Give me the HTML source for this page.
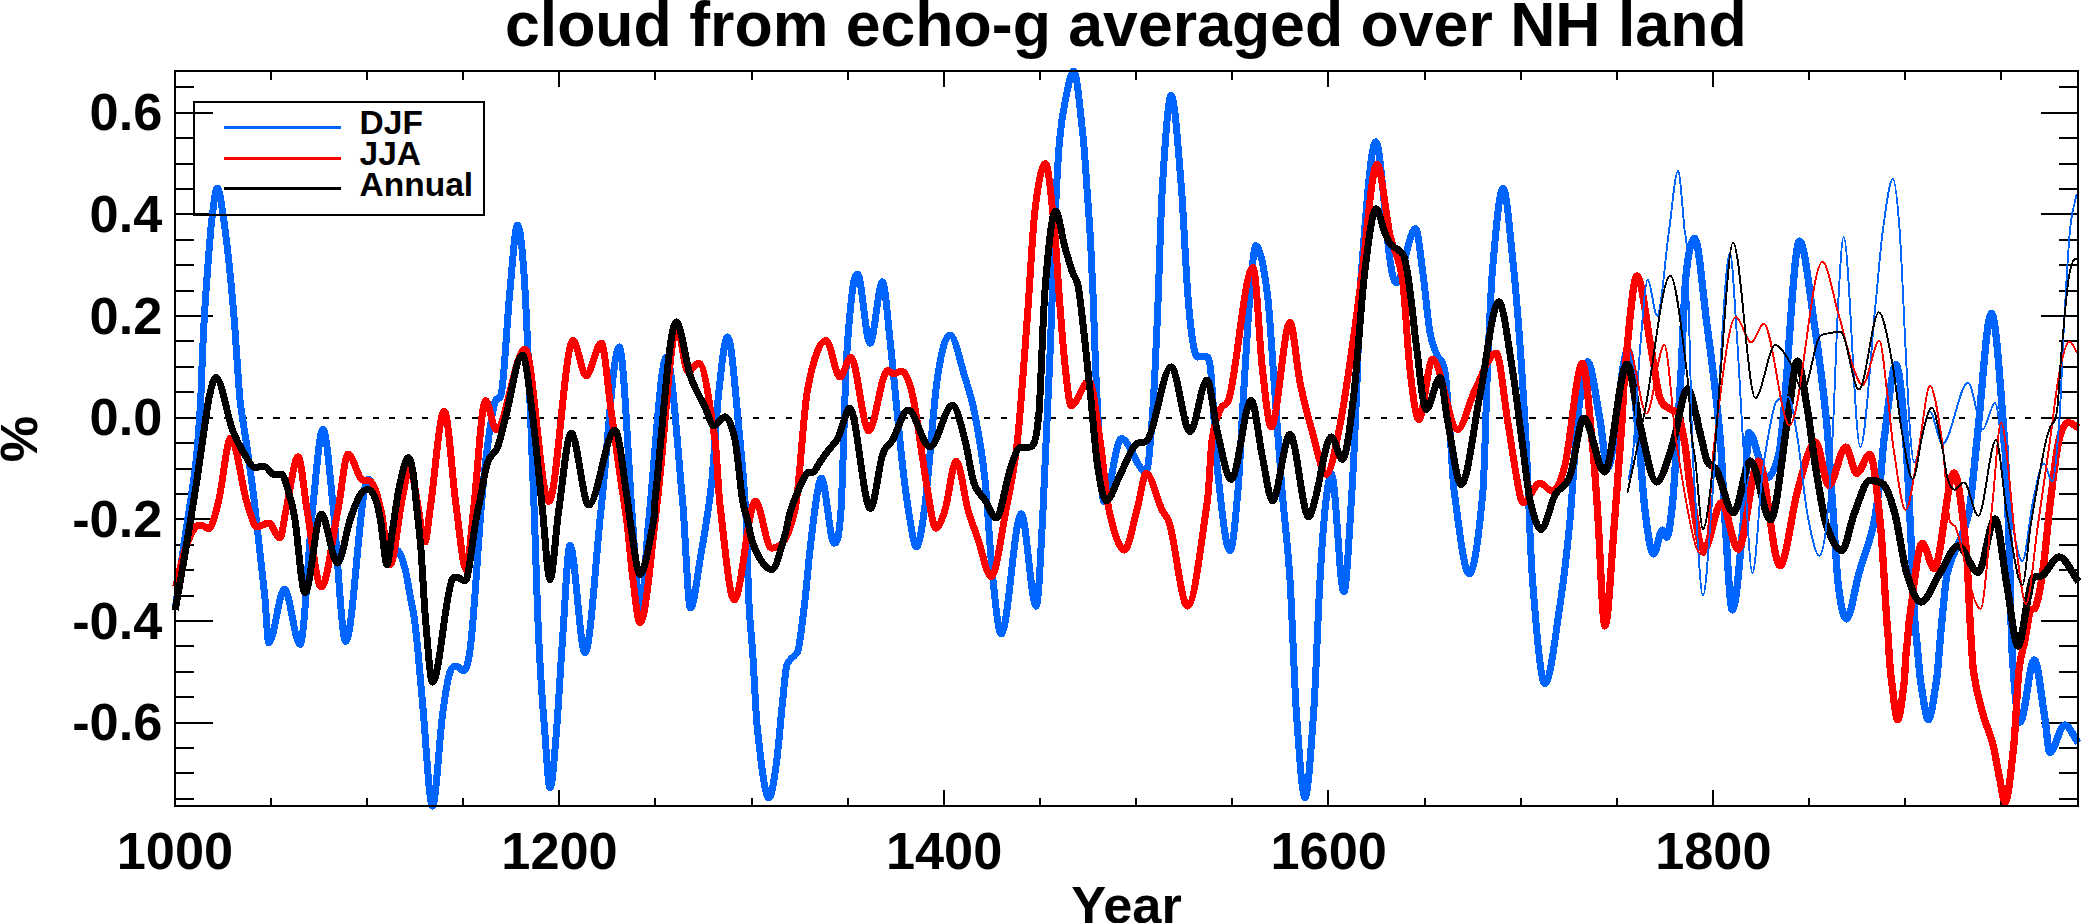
<!DOCTYPE html>
<html lang="en"><head><meta charset="utf-8"><title>cloud from echo-g averaged over NH land</title>
<style>html,body{margin:0;padding:0;background:#fff}body{width:2081px;height:923px;overflow:hidden}svg{display:block}text{font-family:"Liberation Sans",sans-serif;font-weight:bold;fill:#000}.tk{font-size:52.3px}.lg{font-size:33.5px}.tt{font-size:62.6px}.c{fill:none;stroke-linejoin:round;stroke-linecap:butt;shape-rendering:crispEdges}</style></head><body>
<svg width="2081" height="923" viewBox="0 0 2081 923">
<rect width="2081" height="923" fill="#fff"/>
<path d="M175.0 799.0h19.0M2078.0 799.0h-19.0M175.0 773.0h19.0M2078.0 773.0h-19.0M175.0 748.0h19.0M2078.0 748.0h-19.0M175.0 723.0h37.5M2078.0 723.0h-37.5M175.0 697.0h19.0M2078.0 697.0h-19.0M175.0 672.0h19.0M2078.0 672.0h-19.0M175.0 646.0h19.0M2078.0 646.0h-19.0M175.0 621.0h37.5M2078.0 621.0h-37.5M175.0 596.0h19.0M2078.0 596.0h-19.0M175.0 570.0h19.0M2078.0 570.0h-19.0M175.0 545.0h19.0M2078.0 545.0h-19.0M175.0 519.0h37.5M2078.0 519.0h-37.5M175.0 494.0h19.0M2078.0 494.0h-19.0M175.0 469.0h19.0M2078.0 469.0h-19.0M175.0 443.0h19.0M2078.0 443.0h-19.0M175.0 418.0h37.5M2078.0 418.0h-37.5M175.0 392.0h19.0M2078.0 392.0h-19.0M175.0 367.0h19.0M2078.0 367.0h-19.0M175.0 341.0h19.0M2078.0 341.0h-19.0M175.0 316.0h37.5M2078.0 316.0h-37.5M175.0 291.0h19.0M2078.0 291.0h-19.0M175.0 265.0h19.0M2078.0 265.0h-19.0M175.0 240.0h19.0M2078.0 240.0h-19.0M175.0 214.0h37.5M2078.0 214.0h-37.5M175.0 189.0h19.0M2078.0 189.0h-19.0M175.0 164.0h19.0M2078.0 164.0h-19.0M175.0 138.0h19.0M2078.0 138.0h-19.0M175.0 113.0h37.5M2078.0 113.0h-37.5M175.0 87.0h19.0M2078.0 87.0h-19.0M271.0 71.0v8.5M271.0 806.0v-8.5M367.0 71.0v8.5M367.0 806.0v-8.5M463.0 71.0v8.5M463.0 806.0v-8.5M559.0 71.0v16.0M559.0 806.0v-16.0M655.0 71.0v8.5M655.0 806.0v-8.5M752.0 71.0v8.5M752.0 806.0v-8.5M848.0 71.0v8.5M848.0 806.0v-8.5M944.0 71.0v16.0M944.0 806.0v-16.0M1040.0 71.0v8.5M1040.0 806.0v-8.5M1136.0 71.0v8.5M1136.0 806.0v-8.5M1232.0 71.0v8.5M1232.0 806.0v-8.5M1328.0 71.0v16.0M1328.0 806.0v-16.0M1425.0 71.0v8.5M1425.0 806.0v-8.5M1521.0 71.0v8.5M1521.0 806.0v-8.5M1617.0 71.0v8.5M1617.0 806.0v-8.5M1713.0 71.0v16.0M1713.0 806.0v-16.0M1809.0 71.0v8.5M1809.0 806.0v-8.5M1905.0 71.0v8.5M1905.0 806.0v-8.5M2001.0 71.0v8.5M2001.0 806.0v-8.5" stroke="#000" stroke-width="2" fill="none" shape-rendering="crispEdges"/>
<path d="M174.2 418.0H2078.0" stroke="#000" stroke-width="2" stroke-dasharray="6.2 10.327" fill="none" shape-rendering="crispEdges"/>
<path class="c" d="M175.3 607.0C175.8 604.3 176.2 602.4 176.7 599.0C178.9 583.2 181.0 565.1 183.2 549.4C184.7 538.6 186.2 529.9 187.7 519.5C190.5 499.9 193.4 485.7 196.2 459.7C197.7 445.9 199.2 423.9 200.7 400.0C201.1 393.6 201.5 378.2 201.9 369.0C202.7 351.3 203.4 332.8 204.2 319.4C205.3 299.6 206.5 284.5 207.6 269.6C209.0 251.3 210.4 231.5 211.8 219.8C213.7 204.3 215.5 188.0 217.4 188.0C219.5 188.0 221.6 205.8 223.8 219.8C225.7 233.0 227.7 250.7 229.7 269.6C231.2 283.9 232.7 300.8 234.2 319.4C235.4 333.9 236.5 352.8 237.7 369.0C238.5 379.7 239.2 393.6 240.0 400.0C242.5 420.5 244.9 432.4 247.4 449.8C249.6 465.6 251.9 481.4 254.1 499.6C255.9 514.6 257.8 532.7 259.6 549.4C261.4 565.8 263.2 580.6 265.0 599.0C266.2 611.8 267.5 643.0 268.8 643.0C274.0 643.0 279.2 589.0 284.5 589.0C289.7 589.0 294.8 644.5 300.0 644.5C304.2 644.5 308.3 549.0 312.5 510.0C316.0 477.2 319.5 429.0 323.0 429.0C326.3 429.0 329.7 473.9 333.0 505.0C337.2 544.7 341.5 641.5 345.8 641.5C351.5 641.5 357.2 542.0 363.0 500.0C364.7 487.8 366.3 479.0 368.0 479.0C370.3 479.0 372.7 483.0 375.0 490.0C376.7 495.0 378.3 506.5 380.0 515.0C381.3 521.8 382.7 531.0 384.0 536.0C385.3 541.0 386.7 543.4 388.0 545.0C390.0 547.4 392.0 546.6 394.0 548.0C396.0 549.4 398.0 549.4 400.0 553.5C401.9 557.4 403.9 564.0 405.8 572.0C407.2 577.8 408.6 587.3 410.0 595.0C411.5 603.0 412.9 608.6 414.4 619.0C415.6 627.6 416.8 639.6 418.0 652.0C419.5 667.5 421.0 686.6 422.5 702.5C425.8 737.9 429.2 806.0 432.5 806.0C435.8 806.0 439.2 740.5 442.5 715.0C445.0 695.9 447.5 679.2 450.0 672.0C452.1 666.0 454.2 666.0 456.2 666.0C458.8 666.0 461.2 670.8 463.8 670.8C466.2 670.8 468.8 663.3 471.2 640.0C474.5 609.7 477.8 549.2 481.0 510.0C483.0 485.9 485.0 465.4 487.0 450.0C489.7 429.4 492.3 411.3 495.0 402.0C497.0 395.0 499.0 402.0 501.0 395.0C504.0 384.5 507.0 320.9 510.0 290.0C512.5 264.2 515.0 225.0 517.5 225.0C520.0 225.0 522.5 247.7 525.0 290.0C527.9 339.4 530.8 425.8 533.8 500.0C535.4 542.4 537.1 605.2 538.8 640.0C540.8 683.5 542.9 707.6 545.0 735.0C546.7 756.9 548.3 788.0 550.0 788.0C552.1 788.0 554.2 759.7 556.2 735.0C558.3 710.3 560.4 668.7 562.5 640.0C565.0 605.5 567.5 545.5 570.0 545.5C575.0 545.5 580.0 653.0 585.0 653.0C590.3 653.0 595.7 557.7 601.0 510.0C607.1 455.6 613.2 346.8 619.2 346.8C623.7 346.8 628.1 462.5 632.5 520.0C635.0 552.6 637.5 617.0 640.0 617.0C642.9 617.0 645.8 548.6 648.8 520.0C654.7 461.9 660.6 357.0 666.5 357.0C671.8 357.0 677.2 444.2 682.5 500.0C685.2 527.9 687.8 608.0 690.5 608.0C693.8 608.0 697.1 577.1 700.4 557.6C704.1 535.8 707.8 517.3 711.5 484.0C713.9 462.1 716.4 414.4 718.8 392.0C721.7 365.3 724.6 336.8 727.5 336.8C731.7 336.8 735.8 399.3 740.0 440.0C742.1 460.4 744.2 481.9 746.2 520.0C747.1 535.2 747.9 582.7 748.8 600.0C750.0 626.0 751.2 631.4 752.5 650.0C754.2 674.8 755.8 715.0 757.5 730.0C761.3 764.3 765.1 798.0 768.9 798.0C771.4 798.0 773.8 782.2 776.2 765.0C778.3 750.4 780.4 722.7 782.5 702.5C783.8 690.4 785.0 675.1 786.2 668.0C787.5 660.9 788.8 661.9 790.0 660.0C791.7 657.5 793.3 657.4 795.0 655.0C796.2 653.2 797.5 654.4 798.8 647.5C800.8 636.0 802.9 618.1 805.0 600.0C806.7 585.6 808.3 564.8 810.0 550.0C812.1 531.5 814.2 513.3 816.2 500.0C817.9 489.3 819.6 478.0 821.2 478.0C825.6 478.0 829.9 543.2 834.2 543.2C836.5 543.2 838.8 543.2 841.0 510.0C842.8 484.1 844.5 398.5 846.2 365.0C848.3 325.1 850.4 306.8 852.5 290.0C854.2 276.6 855.8 274.2 857.5 274.2C861.7 274.2 865.8 343.2 870.0 343.2C874.2 343.2 878.3 281.8 882.5 281.8C885.0 281.8 887.5 317.1 890.0 340.0C894.2 378.2 898.3 427.5 902.5 465.0C905.0 487.5 907.5 505.1 910.0 520.0C912.1 532.4 914.2 547.0 916.2 547.0C919.2 547.0 922.1 528.3 925.0 505.0C929.2 471.8 933.3 405.8 937.5 377.5C941.7 349.2 945.8 335.0 950.0 335.0C955.0 335.0 960.0 361.5 965.0 377.5C968.3 388.2 971.7 397.9 975.0 415.0C978.3 432.1 981.7 449.5 985.0 480.0C987.5 502.9 990.0 551.3 992.5 575.0C995.4 602.6 998.3 634.0 1001.2 634.0C1007.9 634.0 1014.6 513.8 1021.2 513.8C1026.2 513.8 1031.2 606.2 1036.2 606.2C1038.5 606.2 1040.8 551.7 1043.0 510.0C1045.5 463.0 1048.1 400.8 1050.6 340.0C1052.2 300.8 1053.9 246.3 1055.5 210.0C1056.9 179.6 1058.2 155.0 1059.6 140.0C1061.6 118.0 1063.6 108.8 1065.6 99.0C1068.3 85.8 1071.0 71.0 1073.8 71.0C1076.9 71.0 1080.0 109.9 1083.2 138.0C1084.5 149.6 1085.8 171.7 1087.1 190.0C1088.3 206.4 1089.4 221.4 1090.6 242.0C1091.4 256.1 1092.2 274.3 1093.0 294.0C1094.2 323.6 1095.4 367.3 1096.6 390.0C1099.1 436.6 1101.5 502.0 1104.0 502.0C1109.8 502.0 1115.5 438.5 1121.2 438.5C1129.5 438.5 1137.8 472.0 1146.0 472.0C1148.2 472.0 1150.3 444.6 1152.5 415.0C1154.2 392.2 1155.8 353.3 1157.5 315.0C1159.2 276.7 1160.8 211.6 1162.5 185.0C1165.4 138.4 1168.3 95.5 1171.2 95.5C1174.6 95.5 1177.9 145.1 1181.2 185.0C1183.3 209.9 1185.4 261.3 1187.5 290.0C1189.2 313.0 1190.8 328.8 1192.5 340.0C1194.2 351.2 1195.8 357.0 1197.5 357.0C1200.0 357.0 1202.5 356.0 1205.0 356.0C1206.7 356.0 1208.3 356.0 1210.0 365.0C1212.5 378.5 1215.0 446.8 1217.5 470.0C1221.7 508.7 1225.8 550.8 1230.0 550.8C1232.7 550.8 1235.3 520.8 1238.0 490.0C1239.8 468.8 1241.7 424.8 1243.5 395.0C1245.7 359.8 1247.8 321.4 1250.0 295.0C1251.9 271.6 1253.8 245.5 1255.8 245.5C1259.7 245.5 1263.6 264.6 1267.5 295.0C1270.0 314.4 1272.5 361.4 1275.0 395.0C1277.3 426.4 1279.7 461.2 1282.0 490.0C1284.7 522.9 1287.3 538.8 1290.0 580.0C1292.1 612.2 1294.2 679.8 1296.2 710.0C1299.2 752.3 1302.1 797.5 1305.0 797.5C1307.9 797.5 1310.8 752.3 1313.8 710.0C1315.8 679.8 1317.9 616.3 1320.0 580.0C1321.8 548.0 1323.7 521.9 1325.5 505.0C1327.5 486.6 1329.5 474.0 1331.5 474.0C1335.6 474.0 1339.7 592.0 1343.8 592.0C1346.5 592.0 1349.2 534.4 1352.0 490.0C1353.8 460.4 1355.7 415.8 1357.5 370.0C1358.3 349.2 1359.2 300.4 1360.0 290.0C1365.2 224.3 1370.5 141.8 1375.8 141.8C1380.5 141.8 1385.2 226.9 1390.0 260.0C1392.0 274.0 1394.0 283.0 1396.0 283.0C1402.5 283.0 1409.0 228.5 1415.5 228.5C1417.8 228.5 1420.2 253.3 1422.5 270.0C1425.0 287.9 1427.5 317.8 1430.0 332.5C1432.3 346.2 1434.7 348.9 1437.0 355.0C1439.7 362.0 1442.3 356.2 1445.0 372.0C1446.7 381.9 1448.3 410.1 1450.0 432.0C1451.3 449.5 1452.7 480.2 1454.0 490.0C1459.1 527.5 1464.2 574.0 1469.2 574.0C1473.8 574.0 1478.4 541.2 1483.0 490.0C1484.5 473.2 1486.0 404.7 1487.5 370.0C1489.2 331.4 1490.8 289.6 1492.5 270.0C1496.0 228.9 1499.5 188.0 1503.0 188.0C1506.6 188.0 1510.2 236.9 1513.8 270.0C1515.8 289.2 1517.9 315.8 1520.0 345.0C1522.1 374.2 1524.2 405.8 1526.2 445.0C1528.3 484.2 1530.4 553.5 1532.5 580.0C1536.7 633.1 1540.8 683.8 1545.0 683.8C1550.0 683.8 1555.0 637.8 1560.0 605.0C1563.3 583.2 1566.7 555.2 1570.0 520.0C1572.5 493.6 1575.0 442.6 1577.5 420.0C1580.8 389.9 1584.2 361.8 1587.5 361.8C1591.7 361.8 1595.8 397.9 1600.0 420.0C1602.5 433.3 1605.0 468.0 1607.5 468.0C1614.3 468.0 1621.2 350.0 1628.0 350.0C1631.3 350.0 1634.7 398.5 1638.0 430.0C1640.4 453.0 1642.9 494.1 1645.3 513.4C1648.1 535.4 1650.8 554.0 1653.6 554.0C1656.5 554.0 1659.5 530.0 1662.4 530.0C1663.8 530.0 1665.3 537.2 1666.7 537.2C1668.7 537.2 1670.7 521.4 1672.7 501.5C1674.3 485.6 1675.9 454.8 1677.5 430.0C1678.7 411.9 1679.8 394.4 1681.0 373.0C1682.6 343.6 1684.2 293.5 1685.8 277.7C1688.7 248.7 1691.7 238.5 1694.6 238.5C1698.7 238.5 1702.9 294.4 1707.0 325.0C1710.0 347.2 1713.0 370.4 1716.0 397.0C1717.7 411.8 1719.3 426.2 1721.0 449.0C1722.3 467.2 1723.7 501.0 1725.0 520.0C1727.4 554.7 1729.9 610.0 1732.3 610.0C1735.9 610.0 1739.4 562.9 1743.0 525.0C1745.0 503.8 1747.0 432.6 1749.0 432.6C1755.0 432.6 1761.0 478.0 1767.0 478.0C1770.9 478.0 1774.8 469.9 1778.7 455.0C1780.3 448.9 1781.9 431.5 1783.5 415.0C1788.8 360.1 1794.2 241.0 1799.5 241.0C1804.5 241.0 1809.5 292.0 1814.5 325.3C1818.5 351.7 1822.4 381.0 1826.4 420.0C1828.4 439.7 1830.4 473.8 1832.4 501.5C1834.4 528.8 1836.3 568.6 1838.3 585.0C1841.0 607.8 1843.8 619.0 1846.5 619.0C1850.7 619.0 1854.8 587.5 1859.0 573.0C1863.8 556.3 1868.6 546.7 1873.4 525.4C1875.8 514.9 1878.1 496.8 1880.5 477.7C1881.7 468.3 1882.8 448.5 1884.0 440.0C1888.0 410.8 1892.0 364.7 1896.0 364.7C1899.2 364.7 1902.4 402.0 1905.6 440.0C1907.6 463.4 1909.5 510.5 1911.5 549.0C1912.6 570.5 1913.7 600.4 1914.8 620.0C1915.4 630.7 1916.0 633.5 1916.6 640.0C1917.2 646.8 1917.9 653.3 1918.5 660.0C1919.1 666.7 1919.8 676.2 1920.4 680.0C1923.1 696.1 1925.7 719.7 1928.4 719.7C1931.1 719.7 1933.9 696.2 1936.6 680.0C1937.2 676.3 1937.9 667.0 1938.5 660.0C1939.1 653.7 1939.6 646.5 1940.2 640.0C1940.8 633.1 1941.4 625.7 1942.0 620.0C1943.8 603.3 1945.5 580.1 1947.3 573.0C1954.4 544.5 1961.6 545.3 1968.7 513.4C1971.5 501.0 1974.2 464.4 1977.0 440.0C1981.8 397.7 1986.6 313.4 1991.4 313.4C1995.8 313.4 2000.1 382.5 2004.5 440.0C2006.1 461.1 2007.7 504.2 2009.3 549.0C2010.2 574.2 2011.1 635.4 2012.0 650.0C2014.7 693.1 2017.3 722.0 2020.0 722.0C2024.8 722.0 2029.5 660.0 2034.3 660.0C2037.9 660.0 2041.4 697.7 2045.0 719.0C2046.6 728.6 2048.2 752.6 2049.8 752.6C2054.7 752.6 2059.7 725.0 2064.6 725.0C2069.2 725.0 2073.8 737.0 2078.4 743.0" stroke="#0064ff" stroke-width="7.0"/>
<path class="c" d="M1577.5 420.0C1580.8 389.9 1584.2 361.8 1587.5 361.8C1591.7 361.8 1595.8 397.9 1600.0 420.0C1602.5 433.3 1605.0 468.0 1607.5 468.0C1614.3 468.0 1621.2 350.0 1628.0 350.0C1631.3 350.0 1634.7 398.5 1638.0 430.0C1640.4 453.0 1642.9 494.1 1645.3 513.4C1648.1 535.4 1650.8 554.0 1653.6 554.0C1656.5 554.0 1659.5 530.0 1662.4 530.0C1663.8 530.0 1665.3 537.2 1666.7 537.2C1668.7 537.2 1670.7 521.4 1672.7 501.5C1674.3 485.6 1675.9 454.8 1677.5 430.0C1678.7 411.9 1679.8 394.4 1681.0 373.0C1682.6 343.6 1684.2 293.5 1685.8 277.7C1688.7 248.7 1691.7 238.5 1694.6 238.5C1698.7 238.5 1702.9 294.4 1707.0 325.0C1710.0 347.2 1713.0 370.4 1716.0 397.0C1717.7 411.8 1719.3 426.2 1721.0 449.0C1722.3 467.2 1723.7 501.0 1725.0 520.0C1727.4 554.7 1729.9 610.0 1732.3 610.0C1735.9 610.0 1739.4 562.9 1743.0 525.0C1745.0 503.8 1747.0 432.6 1749.0 432.6C1755.0 432.6 1761.0 478.0 1767.0 478.0C1770.9 478.0 1774.8 469.9 1778.7 455.0C1780.3 448.9 1781.9 431.5 1783.5 415.0C1788.8 360.1 1794.2 241.0 1799.5 241.0C1804.5 241.0 1809.5 292.0 1814.5 325.3C1818.5 351.7 1822.4 381.0 1826.4 420.0C1828.4 439.7 1830.4 473.8 1832.4 501.5C1834.4 528.8 1836.3 568.6 1838.3 585.0C1841.0 607.8 1843.8 619.0 1846.5 619.0C1850.7 619.0 1854.8 587.5 1859.0 573.0C1863.8 556.3 1868.6 546.7 1873.4 525.4C1875.8 514.9 1878.1 496.8 1880.5 477.7C1881.7 468.3 1882.8 448.5 1884.0 440.0C1888.0 410.8 1892.0 364.7 1896.0 364.7C1899.2 364.7 1902.4 402.0 1905.6 440.0C1907.6 463.4 1909.5 510.5 1911.5 549.0C1912.6 570.5 1913.7 600.4 1914.8 620.0C1915.4 630.7 1916.0 633.5 1916.6 640.0C1917.2 646.8 1917.9 653.3 1918.5 660.0C1919.1 666.7 1919.8 676.2 1920.4 680.0C1923.1 696.1 1925.7 719.7 1928.4 719.7C1931.1 719.7 1933.9 696.2 1936.6 680.0C1937.2 676.3 1937.9 667.0 1938.5 660.0C1939.1 653.7 1939.6 646.5 1940.2 640.0C1940.8 633.1 1941.4 625.7 1942.0 620.0C1943.8 603.3 1945.5 580.1 1947.3 573.0C1954.4 544.5 1961.6 545.3 1968.7 513.4C1971.5 501.0 1974.2 464.4 1977.0 440.0C1981.8 397.7 1986.6 313.4 1991.4 313.4C1995.8 313.4 2000.1 382.5 2004.5 440.0C2006.1 461.1 2007.7 504.2 2009.3 549.0C2010.2 574.2 2011.1 635.4 2012.0 650.0C2014.7 693.1 2017.3 722.0 2020.0 722.0C2024.8 722.0 2029.5 660.0 2034.3 660.0C2037.9 660.0 2041.4 697.7 2045.0 719.0C2046.6 728.6 2048.2 752.6 2049.8 752.6C2054.7 752.6 2059.7 725.0 2064.6 725.0C2069.2 725.0 2073.8 737.0 2078.4 743.0" stroke="#0064ff" stroke-width="7.3"/>
<path class="c" d="M175.5 587.0C178.7 574.7 181.8 559.7 185.0 550.0C188.3 539.8 191.7 531.7 195.0 527.5C197.0 525.0 199.0 525.0 201.0 525.0C203.6 525.0 206.2 528.8 208.8 528.8C212.1 528.8 215.4 513.8 218.8 500.0C222.8 483.5 226.8 438.0 230.8 438.0C235.9 438.0 241.1 480.5 246.2 500.0C248.3 507.9 250.4 514.4 252.5 520.0C253.8 523.4 255.0 527.0 256.2 527.0C260.4 527.0 264.6 523.0 268.8 523.0C272.5 523.0 276.2 538.0 280.0 538.0C282.0 538.0 284.0 518.9 286.0 510.0C290.1 491.8 294.2 456.8 298.2 456.8C301.2 456.8 304.1 493.5 307.0 510.0C311.8 536.9 316.5 587.0 321.2 587.0C326.8 587.0 332.4 537.8 338.0 510.0C341.3 493.4 344.7 454.0 348.0 454.0C352.8 454.0 357.7 478.1 362.5 480.0C365.0 481.0 367.5 480.0 370.0 481.0C373.7 482.5 377.3 494.6 381.0 510.0C384.0 522.6 387.0 565.0 390.0 565.0C394.0 565.0 398.0 519.6 402.0 500.0C404.7 486.9 407.3 467.0 410.0 467.0C412.3 467.0 414.7 488.3 417.0 500.0C419.7 513.3 422.3 542.0 425.0 542.0C426.7 542.0 428.3 521.3 430.0 510.0C434.8 477.7 439.5 411.0 444.2 411.0C448.2 411.0 452.1 476.8 456.0 505.0C459.4 529.6 462.8 569.5 466.2 569.5C468.7 569.5 471.1 531.2 473.5 510.0C477.5 474.9 481.5 400.5 485.5 400.5C489.1 400.5 492.7 429.5 496.2 429.5C505.8 429.5 515.4 349.0 525.0 349.0C532.9 349.0 540.8 501.5 548.8 501.5C556.8 501.5 564.9 340.5 573.0 340.5C577.4 340.5 581.8 375.8 586.2 375.8C591.2 375.8 596.2 343.0 601.2 343.0C604.5 343.0 607.8 387.1 611.0 410.0C614.0 431.1 617.0 453.8 620.0 475.0C622.3 491.5 624.7 504.2 627.0 523.0C629.0 539.2 631.0 564.6 633.0 580.0C635.3 597.9 637.7 623.0 640.0 623.0C645.8 623.0 651.7 546.7 657.5 500.0C664.0 448.0 670.5 327.0 677.0 327.0C680.7 327.0 684.3 372.0 688.0 372.0C691.6 372.0 695.2 363.0 698.8 363.0C704.2 363.0 709.6 403.8 715.0 440.0C716.7 451.1 718.3 491.1 720.0 505.0C724.8 544.5 729.5 600.0 734.2 600.0C741.3 600.0 748.4 501.0 755.5 501.0C760.8 501.0 766.0 548.2 771.2 548.2C779.2 548.2 787.1 544.6 795.0 510.0C799.2 491.8 803.3 412.6 807.5 390.0C813.8 356.1 820.0 340.5 826.2 340.5C830.8 340.5 835.4 377.0 840.0 377.0C843.6 377.0 847.2 357.5 850.8 357.5C856.8 357.5 862.8 430.8 868.8 430.8C875.0 430.8 881.2 370.5 887.5 370.5C889.7 370.5 891.8 374.0 894.0 374.0C896.4 374.0 898.8 371.0 901.2 371.0C905.0 371.0 908.8 378.0 912.5 395.0C917.5 417.7 922.5 461.3 927.5 490.0C930.2 505.8 933.0 528.2 935.8 528.2C938.8 528.2 941.9 520.1 945.0 510.0C948.8 497.7 952.5 461.0 956.2 461.0C960.2 461.0 964.1 495.9 968.0 510.0C971.2 521.4 974.3 528.4 977.5 537.5C982.1 550.6 986.7 576.5 991.2 576.5C996.2 576.5 1001.1 535.6 1006.0 510.0C1009.8 490.1 1013.7 474.8 1017.5 440.0C1020.8 409.8 1024.2 358.8 1027.5 315.0C1030.0 282.1 1032.5 231.0 1035.0 210.0C1038.5 180.5 1042.0 163.5 1045.5 163.5C1048.7 163.5 1051.8 204.8 1055.0 235.0C1056.2 246.9 1057.5 273.8 1058.8 290.0C1060.8 317.1 1062.9 345.7 1065.0 365.0C1067.1 384.3 1069.2 405.8 1071.2 405.8C1077.2 405.8 1083.1 381.0 1089.0 381.0C1092.7 381.0 1096.3 416.4 1100.0 440.0C1103.0 459.4 1106.0 496.5 1109.0 510.0C1114.2 533.2 1119.3 550.0 1124.5 550.0C1128.7 550.0 1132.8 524.7 1137.0 510.0C1140.1 499.2 1143.2 473.5 1146.2 473.5C1151.5 473.5 1156.8 498.6 1162.0 510.0C1164.7 515.8 1167.3 514.9 1170.0 525.0C1175.8 547.0 1181.7 606.2 1187.5 606.2C1194.2 606.2 1200.8 545.2 1207.5 500.0C1209.0 489.8 1210.5 450.8 1212.0 440.0C1214.7 420.8 1217.3 416.7 1220.0 410.0C1223.3 401.7 1226.7 409.4 1230.0 395.0C1237.7 361.9 1245.3 267.5 1253.0 267.5C1256.2 267.5 1259.3 342.3 1262.5 370.0C1265.4 395.5 1268.3 427.0 1271.2 427.0C1277.5 427.0 1283.8 322.5 1290.0 322.5C1293.3 322.5 1296.7 366.2 1300.0 382.5C1304.2 402.9 1308.3 417.9 1312.5 432.5C1317.1 448.6 1321.7 474.5 1326.2 474.5C1330.8 474.5 1335.4 447.6 1340.0 425.0C1344.2 404.4 1348.3 373.4 1352.5 345.0C1355.4 325.1 1358.3 301.5 1361.2 280.0C1366.5 241.3 1371.8 164.2 1377.0 164.2C1381.3 164.2 1385.7 215.3 1390.0 235.0C1394.2 253.9 1398.3 251.9 1402.5 280.0C1405.0 296.9 1407.5 348.5 1410.0 370.0C1412.9 395.0 1415.8 419.5 1418.8 419.5C1423.3 419.5 1427.9 359.2 1432.5 359.2C1440.8 359.2 1449.2 429.5 1457.5 429.5C1463.3 429.5 1469.2 401.5 1475.0 390.0C1482.1 376.0 1489.2 353.0 1496.2 353.0C1500.0 353.0 1503.8 397.1 1507.5 420.0C1510.8 440.3 1514.2 464.7 1517.5 482.5C1519.3 492.3 1521.2 503.0 1523.0 503.0C1528.7 503.0 1534.3 483.0 1540.0 483.0C1544.0 483.0 1548.0 491.0 1552.0 491.0C1556.3 491.0 1560.7 483.2 1565.0 465.0C1570.8 440.5 1576.7 363.0 1582.5 363.0C1585.8 363.0 1589.2 412.3 1592.5 445.0C1594.2 461.3 1595.8 485.9 1597.5 510.0C1600.0 546.2 1602.5 626.0 1605.0 626.0C1608.1 626.0 1611.2 562.0 1614.3 525.0C1616.7 496.7 1619.0 464.3 1621.4 430.0C1622.6 412.6 1623.8 381.8 1625.0 370.0C1629.0 330.5 1633.0 276.0 1637.0 276.0C1641.7 276.0 1646.5 323.7 1651.2 349.0C1654.0 364.0 1656.8 387.9 1659.6 396.8C1663.1 407.9 1666.5 405.9 1670.0 409.0C1672.5 411.3 1675.0 409.0 1677.5 413.0C1680.0 417.0 1682.5 430.4 1685.0 445.0C1686.9 455.9 1688.7 479.1 1690.6 489.6C1695.0 514.2 1699.3 550.4 1703.7 550.4C1709.6 550.4 1715.6 502.7 1721.5 502.7C1727.1 502.7 1732.6 549.2 1738.2 549.2C1745.0 549.2 1751.7 461.0 1758.5 461.0C1765.7 461.0 1772.8 565.8 1780.0 565.8C1785.9 565.8 1791.9 510.2 1797.8 489.6C1803.8 468.9 1809.7 442.0 1815.7 442.0C1820.1 442.0 1824.4 485.3 1828.8 485.3C1834.5 485.3 1840.1 447.0 1845.8 447.0C1849.4 447.0 1853.1 473.4 1856.7 473.4C1861.1 473.4 1865.4 454.5 1869.8 454.5C1873.4 454.5 1876.9 490.5 1880.5 525.4C1882.6 545.9 1884.7 590.2 1886.8 620.7C1887.3 628.4 1887.9 632.2 1888.4 640.0C1888.8 645.3 1889.1 655.3 1889.5 660.0C1890.2 668.6 1890.8 675.1 1891.5 680.0C1893.5 695.0 1895.6 719.7 1897.6 719.7C1899.9 719.7 1902.2 697.4 1904.5 680.0C1904.8 677.5 1905.2 664.4 1905.5 660.0C1906.2 651.1 1906.8 647.0 1907.5 640.0C1908.1 633.7 1908.7 624.0 1909.3 620.0C1913.6 591.7 1917.9 543.2 1922.2 543.2C1926.2 543.2 1930.2 568.7 1934.2 568.7C1940.8 568.7 1947.4 473.0 1954.0 473.0C1958.1 473.0 1962.2 511.3 1966.3 549.0C1967.5 560.3 1968.8 599.0 1970.0 620.0C1971.2 639.8 1972.3 663.0 1973.5 671.5C1976.7 694.5 1979.8 702.5 1983.0 714.4C1986.2 726.4 1989.4 730.7 1992.6 743.0C1995.0 752.1 1997.3 767.5 1999.7 778.8C2001.5 787.2 2003.2 802.0 2005.0 802.0C2008.0 802.0 2011.0 771.4 2014.0 743.0C2015.6 727.9 2017.2 686.5 2018.8 671.5C2020.9 652.1 2022.9 651.0 2025.0 640.0C2026.7 631.1 2028.3 617.0 2030.0 612.0C2032.0 606.0 2034.0 612.0 2036.0 606.0C2038.3 599.0 2040.7 586.8 2043.0 570.0C2045.3 553.2 2047.7 524.1 2050.0 505.0C2052.9 481.5 2055.7 454.8 2058.6 442.0C2061.9 427.3 2065.2 422.5 2068.5 422.5C2071.8 422.5 2075.1 426.2 2078.4 428.0" stroke="#ff0000" stroke-width="7.0"/>
<path class="c" d="M1582.5 363.0C1585.8 363.0 1589.2 412.3 1592.5 445.0C1594.2 461.3 1595.8 485.9 1597.5 510.0C1600.0 546.2 1602.5 626.0 1605.0 626.0C1608.1 626.0 1611.2 562.0 1614.3 525.0C1616.7 496.7 1619.0 464.3 1621.4 430.0C1622.6 412.6 1623.8 381.8 1625.0 370.0C1629.0 330.5 1633.0 276.0 1637.0 276.0C1641.7 276.0 1646.5 323.7 1651.2 349.0C1654.0 364.0 1656.8 387.9 1659.6 396.8C1663.1 407.9 1666.5 405.9 1670.0 409.0C1672.5 411.3 1675.0 409.0 1677.5 413.0C1680.0 417.0 1682.5 430.4 1685.0 445.0C1686.9 455.9 1688.7 479.1 1690.6 489.6C1695.0 514.2 1699.3 550.4 1703.7 550.4C1709.6 550.4 1715.6 502.7 1721.5 502.7C1727.1 502.7 1732.6 549.2 1738.2 549.2C1745.0 549.2 1751.7 461.0 1758.5 461.0C1765.7 461.0 1772.8 565.8 1780.0 565.8C1785.9 565.8 1791.9 510.2 1797.8 489.6C1803.8 468.9 1809.7 442.0 1815.7 442.0C1820.1 442.0 1824.4 485.3 1828.8 485.3C1834.5 485.3 1840.1 447.0 1845.8 447.0C1849.4 447.0 1853.1 473.4 1856.7 473.4C1861.1 473.4 1865.4 454.5 1869.8 454.5C1873.4 454.5 1876.9 490.5 1880.5 525.4C1882.6 545.9 1884.7 590.2 1886.8 620.7C1887.3 628.4 1887.9 632.2 1888.4 640.0C1888.8 645.3 1889.1 655.3 1889.5 660.0C1890.2 668.6 1890.8 675.1 1891.5 680.0C1893.5 695.0 1895.6 719.7 1897.6 719.7C1899.9 719.7 1902.2 697.4 1904.5 680.0C1904.8 677.5 1905.2 664.4 1905.5 660.0C1906.2 651.1 1906.8 647.0 1907.5 640.0C1908.1 633.7 1908.7 624.0 1909.3 620.0C1913.6 591.7 1917.9 543.2 1922.2 543.2C1926.2 543.2 1930.2 568.7 1934.2 568.7C1940.8 568.7 1947.4 473.0 1954.0 473.0C1958.1 473.0 1962.2 511.3 1966.3 549.0C1967.5 560.3 1968.8 599.0 1970.0 620.0C1971.2 639.8 1972.3 663.0 1973.5 671.5C1976.7 694.5 1979.8 702.5 1983.0 714.4C1986.2 726.4 1989.4 730.7 1992.6 743.0C1995.0 752.1 1997.3 767.5 1999.7 778.8C2001.5 787.2 2003.2 802.0 2005.0 802.0C2008.0 802.0 2011.0 771.4 2014.0 743.0C2015.6 727.9 2017.2 686.5 2018.8 671.5C2020.9 652.1 2022.9 651.0 2025.0 640.0C2026.7 631.1 2028.3 617.0 2030.0 612.0C2032.0 606.0 2034.0 612.0 2036.0 606.0C2038.3 599.0 2040.7 586.8 2043.0 570.0C2045.3 553.2 2047.7 524.1 2050.0 505.0C2052.9 481.5 2055.7 454.8 2058.6 442.0C2061.9 427.3 2065.2 422.5 2068.5 422.5C2071.8 422.5 2075.1 426.2 2078.4 428.0" stroke="#ff0000" stroke-width="7.3"/>
<path class="c" d="M175.2 610.0C177.6 596.3 180.0 583.0 182.4 569.0C184.9 554.5 187.4 539.8 189.9 524.5C192.4 509.2 194.9 493.7 197.4 477.0C199.9 460.5 202.3 441.5 204.8 425.0C206.5 413.8 208.1 401.1 209.8 394.0C211.8 385.3 213.9 377.5 215.9 377.5C221.4 377.5 227.0 415.3 232.5 430.0C236.7 441.1 240.8 448.1 245.0 455.0C248.3 460.6 251.7 467.5 255.0 467.5C257.9 467.5 260.8 466.2 263.8 466.2C267.5 466.2 271.2 475.0 275.0 475.0C277.1 475.0 279.2 474.0 281.2 474.0C284.2 474.0 287.1 487.2 290.0 497.0C291.7 502.6 293.3 509.3 295.0 520.0C298.3 541.3 301.7 593.0 305.0 593.0C310.4 593.0 315.8 514.0 321.2 514.0C326.7 514.0 332.1 563.0 337.5 563.0C341.7 563.0 345.8 533.0 350.0 520.0C352.7 511.7 355.3 504.8 358.0 499.0C359.7 495.3 361.3 493.2 363.0 491.5C364.5 490.0 366.0 489.5 367.5 489.5C369.0 489.5 370.5 489.9 372.0 492.0C373.5 494.1 375.0 497.1 376.5 502.0C377.8 506.4 379.2 512.1 380.5 520.0C382.7 532.9 384.8 564.5 387.0 564.5C388.9 564.5 390.9 540.2 392.8 528.0C395.0 514.3 397.1 496.8 399.3 487.0C402.3 473.3 405.4 457.5 408.4 457.5C410.0 457.5 411.7 464.2 413.3 474.0C414.4 480.6 415.5 495.7 416.6 506.6C418.1 521.1 419.5 531.5 421.0 550.0C422.4 567.6 423.8 598.9 425.2 615.0C427.6 642.9 430.1 682.0 432.5 682.0C439.2 682.0 445.8 589.0 452.5 579.0C453.8 577.0 455.2 577.0 456.5 577.0C459.3 577.0 462.2 581.0 465.0 581.0C468.7 581.0 472.3 539.8 476.0 520.0C477.3 512.8 478.7 506.7 480.0 500.0C482.5 487.5 485.0 470.0 487.5 462.5C490.8 452.5 494.2 455.6 497.5 447.5C500.0 441.4 502.5 429.2 505.0 420.0C510.8 398.4 516.7 355.0 522.5 355.0C525.8 355.0 529.2 389.2 532.5 415.0C535.8 440.8 539.2 478.7 542.5 510.0C545.0 533.5 547.5 579.5 550.0 579.5C552.9 579.5 555.8 530.1 558.8 510.0C562.9 481.3 567.1 433.0 571.2 433.0C577.1 433.0 582.9 505.0 588.8 505.0C597.5 505.0 606.2 430.0 615.0 430.0C619.2 430.0 623.3 475.0 627.5 500.0C628.3 505.0 629.2 515.0 630.0 520.0C633.3 539.9 636.7 574.5 640.0 574.5C644.6 574.5 649.2 542.8 653.8 520.0C654.2 517.9 654.6 503.7 655.0 500.0C662.1 437.6 669.2 321.8 676.2 321.8C680.8 321.8 685.4 359.7 690.0 375.0C692.5 383.3 695.0 387.2 697.5 392.5C700.0 397.8 702.5 401.9 705.0 407.0C707.9 413.0 710.8 425.8 713.8 425.8C717.5 425.8 721.2 416.8 725.0 416.8C728.3 416.8 731.7 424.1 735.0 440.0C737.5 451.9 740.0 484.0 742.5 500.0C744.2 510.7 745.8 512.9 747.5 520.0C749.2 527.1 750.8 537.8 752.5 542.5C755.8 551.9 759.2 557.8 762.5 562.5C765.6 566.8 768.7 569.5 771.8 569.5C776.2 569.5 780.6 548.7 785.0 535.0C786.5 530.2 788.1 519.4 789.6 514.0C791.7 506.4 793.9 501.6 796.0 496.0C797.8 491.2 799.7 486.6 801.5 483.0C803.7 478.8 805.8 473.1 808.0 472.5C809.8 472.0 811.7 472.5 813.5 472.0C815.3 471.5 817.2 466.2 819.0 463.5C821.1 460.4 823.2 457.3 825.3 454.5C827.5 451.5 829.8 448.8 832.0 446.0C833.8 443.7 835.7 442.8 837.5 439.0C839.4 435.1 841.3 427.9 843.2 423.0C845.3 417.5 847.5 408.0 849.6 408.0C856.6 408.0 863.5 508.5 870.5 508.5C874.5 508.5 878.5 467.5 882.5 455.0C885.8 444.6 889.2 445.8 892.5 440.0C897.8 430.8 903.0 410.0 908.2 410.0C915.5 410.0 922.8 447.0 930.0 447.0C937.5 447.0 945.0 405.0 952.5 405.0C956.7 405.0 960.8 424.8 965.0 440.0C967.9 450.6 970.8 473.8 973.8 482.5C977.5 493.8 981.2 494.1 985.0 500.0C988.8 505.9 992.5 518.0 996.2 518.0C1000.8 518.0 1005.4 483.6 1010.0 470.0C1013.3 460.1 1016.7 448.0 1020.0 447.5C1023.3 447.0 1026.7 447.5 1030.0 447.0C1032.9 446.6 1035.8 445.5 1038.8 415.0C1040.8 393.2 1042.9 315.4 1045.0 290.0C1048.5 247.4 1052.0 211.0 1055.5 211.0C1058.7 211.0 1061.8 236.0 1065.0 247.5C1067.5 256.5 1070.0 264.8 1072.5 272.5C1074.6 278.9 1076.7 276.0 1078.8 290.0C1082.5 315.2 1086.2 355.0 1090.0 390.0C1092.5 413.3 1095.0 447.9 1097.5 465.0C1100.4 484.9 1103.3 501.0 1106.2 501.0C1110.8 501.0 1115.4 483.9 1120.0 475.0C1125.0 465.3 1130.0 451.0 1135.0 445.0C1139.2 440.0 1143.3 445.0 1147.5 440.0C1155.4 430.5 1163.3 366.8 1171.2 366.8C1177.5 366.8 1183.8 432.0 1190.0 432.0C1195.7 432.0 1201.3 380.0 1207.0 380.0C1210.5 380.0 1214.0 418.1 1217.5 432.5C1222.1 451.3 1226.7 479.5 1231.2 479.5C1237.9 479.5 1244.6 400.5 1251.2 400.5C1255.0 400.5 1258.8 439.8 1262.5 457.5C1265.8 473.2 1269.2 500.8 1272.5 500.8C1278.3 500.8 1284.2 434.2 1290.0 434.2C1296.2 434.2 1302.5 517.0 1308.8 517.0C1310.8 517.0 1312.9 507.4 1315.0 500.0C1320.4 480.7 1325.8 436.8 1331.2 436.8C1335.0 436.8 1338.8 459.5 1342.5 459.5C1346.2 459.5 1350.0 426.6 1353.8 395.0C1357.5 363.4 1361.2 301.0 1365.0 270.0C1368.8 239.0 1372.5 208.8 1376.2 208.8C1379.0 208.8 1381.8 225.1 1384.6 232.0C1386.6 237.0 1388.6 241.8 1390.6 244.5C1393.0 247.7 1395.4 247.4 1397.8 249.5C1399.8 251.2 1401.7 251.3 1403.7 256.0C1404.9 258.8 1406.1 264.6 1407.3 272.0C1408.9 281.6 1410.4 294.2 1412.0 307.0C1413.3 317.9 1414.7 333.4 1416.0 343.0C1419.4 367.6 1422.8 409.5 1426.2 409.5C1430.8 409.5 1435.4 377.5 1440.0 377.5C1442.5 377.5 1445.0 407.4 1447.5 420.0C1452.1 443.1 1456.7 484.5 1461.2 484.5C1467.5 484.5 1473.8 425.5 1480.0 395.0C1486.2 364.5 1492.5 301.8 1498.8 301.8C1503.3 301.8 1507.9 342.4 1512.5 370.0C1515.8 390.1 1519.2 420.2 1522.5 445.0C1525.0 463.6 1527.5 488.7 1530.0 500.0C1533.8 516.9 1537.5 529.5 1541.2 529.5C1545.8 529.5 1550.4 503.5 1555.0 495.0C1560.0 485.7 1565.0 489.4 1570.0 476.0C1574.6 463.7 1579.2 418.0 1583.8 418.0C1590.7 418.0 1597.6 472.0 1604.5 472.0C1612.0 472.0 1619.5 364.2 1627.0 364.2C1631.3 364.2 1635.7 407.7 1640.0 425.0C1645.5 447.0 1651.0 482.0 1656.5 482.0C1661.8 482.0 1667.2 461.0 1672.5 445.0C1677.5 430.0 1682.5 388.8 1687.5 388.8C1691.7 388.8 1695.8 417.2 1700.0 432.5C1702.4 441.3 1704.8 455.6 1707.2 461.0C1710.4 468.2 1713.6 464.2 1716.8 470.5C1722.4 481.4 1727.9 512.7 1733.5 512.7C1739.2 512.7 1744.9 461.0 1750.6 461.0C1757.2 461.0 1763.8 519.8 1770.4 519.8C1776.4 519.8 1782.3 450.2 1788.3 415.0C1791.3 397.3 1794.3 361.0 1797.3 361.0C1800.6 361.0 1804.0 389.5 1807.3 408.7C1809.7 422.5 1812.1 443.8 1814.5 460.0C1816.1 470.8 1817.7 480.8 1819.3 489.6C1821.7 502.6 1824.0 518.9 1826.4 525.3C1831.6 539.2 1836.7 550.4 1841.9 550.4C1846.0 550.4 1850.2 523.8 1854.3 513.4C1859.5 500.5 1864.6 480.5 1869.8 480.5C1874.2 480.5 1878.6 480.5 1883.0 484.0C1886.9 487.1 1890.9 498.6 1894.8 513.4C1898.8 528.3 1902.7 559.6 1906.7 573.0C1911.5 589.1 1916.2 602.0 1921.0 602.0C1927.3 602.0 1933.7 582.6 1940.0 573.0C1946.0 563.9 1952.0 545.9 1958.0 545.9C1964.8 545.9 1971.5 572.3 1978.3 572.3C1983.9 572.3 1989.4 519.0 1995.0 519.0C1999.0 519.0 2002.9 563.1 2006.9 585.0C2010.6 605.4 2014.3 646.0 2018.0 646.0C2021.4 646.0 2024.9 612.5 2028.3 596.9C2029.9 589.8 2031.4 579.3 2033.0 578.0C2036.2 575.4 2039.4 578.0 2042.6 575.4C2048.2 571.0 2053.7 557.0 2059.3 557.0C2065.7 557.0 2072.0 573.3 2078.4 581.4" stroke="#000" stroke-width="7.0"/>
<path class="c" d="M1583.8 418.0C1590.7 418.0 1597.6 472.0 1604.5 472.0C1612.0 472.0 1619.5 364.2 1627.0 364.2C1631.3 364.2 1635.7 407.7 1640.0 425.0C1645.5 447.0 1651.0 482.0 1656.5 482.0C1661.8 482.0 1667.2 461.0 1672.5 445.0C1677.5 430.0 1682.5 388.8 1687.5 388.8C1691.7 388.8 1695.8 417.2 1700.0 432.5C1702.4 441.3 1704.8 455.6 1707.2 461.0C1710.4 468.2 1713.6 464.2 1716.8 470.5C1722.4 481.4 1727.9 512.7 1733.5 512.7C1739.2 512.7 1744.9 461.0 1750.6 461.0C1757.2 461.0 1763.8 519.8 1770.4 519.8C1776.4 519.8 1782.3 450.2 1788.3 415.0C1791.3 397.3 1794.3 361.0 1797.3 361.0C1800.6 361.0 1804.0 389.5 1807.3 408.7C1809.7 422.5 1812.1 443.8 1814.5 460.0C1816.1 470.8 1817.7 480.8 1819.3 489.6C1821.7 502.6 1824.0 518.9 1826.4 525.3C1831.6 539.2 1836.7 550.4 1841.9 550.4C1846.0 550.4 1850.2 523.8 1854.3 513.4C1859.5 500.5 1864.6 480.5 1869.8 480.5C1874.2 480.5 1878.6 480.5 1883.0 484.0C1886.9 487.1 1890.9 498.6 1894.8 513.4C1898.8 528.3 1902.7 559.6 1906.7 573.0C1911.5 589.1 1916.2 602.0 1921.0 602.0C1927.3 602.0 1933.7 582.6 1940.0 573.0C1946.0 563.9 1952.0 545.9 1958.0 545.9C1964.8 545.9 1971.5 572.3 1978.3 572.3C1983.9 572.3 1989.4 519.0 1995.0 519.0C1999.0 519.0 2002.9 563.1 2006.9 585.0C2010.6 605.4 2014.3 646.0 2018.0 646.0C2021.4 646.0 2024.9 612.5 2028.3 596.9C2029.9 589.8 2031.4 579.3 2033.0 578.0C2036.2 575.4 2039.4 578.0 2042.6 575.4C2048.2 571.0 2053.7 557.0 2059.3 557.0C2065.7 557.0 2072.0 573.3 2078.4 581.4" stroke="#000" stroke-width="7.3"/>
<path class="c" d="M1628.5 480.0C1630.1 469.7 1631.8 467.5 1633.4 449.0C1635.6 424.1 1637.8 376.0 1640.0 350.0C1642.6 319.7 1645.1 280.0 1647.7 280.0C1650.9 280.0 1654.0 315.8 1657.2 315.8C1661.2 315.8 1665.1 257.6 1669.1 230.0C1672.1 209.3 1675.0 171.0 1678.0 171.0C1680.2 171.0 1682.4 209.4 1684.6 230.0C1685.6 239.1 1686.5 233.1 1687.5 260.0C1688.9 299.8 1690.4 382.0 1691.8 430.0C1692.5 454.6 1693.3 466.9 1694.0 477.7C1697.0 522.1 1700.0 595.6 1703.0 595.6C1706.0 595.6 1709.0 538.6 1712.0 501.5C1713.6 481.7 1715.2 447.2 1716.8 425.0C1721.2 364.3 1725.5 252.6 1729.9 252.6C1732.3 252.6 1734.6 303.3 1737.0 337.2C1739.0 365.8 1741.0 409.6 1743.0 440.0C1746.2 488.2 1749.3 573.0 1752.5 573.0C1755.7 573.0 1758.8 505.8 1762.0 477.7C1763.8 461.4 1765.7 449.7 1767.5 440.0C1770.5 424.3 1773.4 405.2 1776.4 401.6C1780.4 396.8 1784.3 396.8 1788.3 396.8C1791.5 396.8 1794.6 420.6 1797.8 440.0C1801.0 459.4 1804.1 496.3 1807.3 513.4C1811.3 534.9 1815.3 555.8 1819.3 555.8C1821.7 555.8 1824.0 545.9 1826.4 525.0C1828.4 507.3 1830.4 477.6 1832.4 440.0C1834.4 403.1 1836.3 337.1 1838.3 301.5C1840.1 269.5 1841.8 237.0 1843.6 237.0C1849.2 237.0 1854.7 447.0 1860.3 447.0C1865.5 447.0 1870.6 351.1 1875.8 301.5C1878.2 278.8 1880.5 247.0 1882.9 230.0C1886.2 206.0 1889.6 178.6 1892.9 178.6C1895.1 178.6 1897.4 200.0 1899.6 230.0C1901.6 256.8 1903.6 310.5 1905.6 349.0C1907.1 377.2 1908.5 410.3 1910.0 430.0C1911.3 447.9 1912.7 462.0 1914.0 462.0C1919.3 462.0 1924.7 412.0 1930.0 412.0C1934.2 412.0 1938.3 444.0 1942.5 444.0C1951.0 444.0 1959.5 382.6 1968.0 382.6C1973.0 382.6 1978.0 429.0 1983.0 429.0C1987.0 429.0 1991.0 402.8 1995.0 402.8C1999.0 402.8 2002.9 466.7 2006.9 489.6C2012.1 519.4 2017.2 561.0 2022.4 561.0C2025.9 561.0 2029.5 517.6 2033.0 501.5C2036.6 485.1 2040.2 463.4 2043.8 463.4C2046.6 463.4 2049.4 481.3 2052.2 481.3C2054.6 481.3 2056.9 452.0 2059.3 420.7C2060.9 400.0 2062.4 353.2 2064.0 325.3C2066.0 289.7 2068.0 250.7 2070.0 230.0C2072.2 206.9 2074.5 206.0 2076.7 194.0" stroke="#0064ff" stroke-width="1.9"/>
<path class="c" d="M1626.0 352.0C1626.8 350.3 1627.7 347.0 1628.5 347.0C1634.5 347.0 1640.5 413.5 1646.5 413.5C1652.4 413.5 1658.4 345.0 1664.3 345.0C1668.3 345.0 1672.3 416.3 1676.3 442.0C1682.6 482.7 1689.0 523.4 1695.3 544.4C1698.5 555.0 1701.7 555.0 1704.9 555.0C1708.1 555.0 1711.2 466.4 1714.4 442.0C1721.5 387.1 1728.7 317.0 1735.8 317.0C1741.0 317.0 1746.1 342.5 1751.3 342.5C1755.4 342.5 1759.6 323.7 1763.7 323.7C1772.3 323.7 1780.9 425.4 1789.5 425.4C1800.5 425.4 1811.4 261.7 1822.4 261.7C1827.7 261.7 1833.0 295.2 1838.3 313.4C1842.9 329.1 1847.4 350.0 1852.0 363.5C1855.5 373.9 1859.1 385.0 1862.6 385.0C1868.2 385.0 1873.7 340.8 1879.3 340.8C1882.1 340.8 1884.9 375.7 1887.7 396.9C1889.7 411.8 1891.6 436.6 1893.6 449.0C1897.6 474.3 1901.6 510.0 1905.6 510.0C1910.0 510.0 1914.3 471.2 1918.7 449.0C1922.5 429.9 1926.2 386.0 1930.0 386.0C1934.2 386.0 1938.3 416.0 1942.5 444.5C1944.9 460.9 1947.3 512.1 1949.7 520.6C1951.8 528.0 1953.9 522.0 1956.0 528.0C1964.2 551.4 1972.4 608.8 1980.6 608.8C1984.6 608.8 1988.6 538.0 1992.6 501.5C1995.4 475.9 1998.2 422.6 2001.0 422.6C2006.1 422.6 2011.3 511.8 2016.4 549.0C2019.6 572.2 2022.8 604.0 2026.0 604.0C2030.0 604.0 2033.9 552.4 2037.9 525.4C2041.9 498.4 2045.8 470.2 2049.8 442.0C2053.0 419.4 2056.1 389.3 2059.3 373.0C2062.6 355.8 2066.0 341.6 2069.3 341.6C2072.2 341.6 2075.1 349.9 2078.0 354.0" stroke="#ff0000" stroke-width="1.9"/>
<path class="c" d="M1627.4 493.0C1633.4 464.9 1639.3 438.9 1645.3 408.7C1653.6 366.5 1662.0 275.8 1670.3 275.8C1676.3 275.8 1682.2 338.1 1688.2 382.5C1689.1 389.5 1690.1 419.8 1691.0 430.0C1692.4 445.6 1693.9 448.2 1695.3 460.0C1697.9 481.2 1700.4 529.0 1703.0 529.0C1706.8 529.0 1710.6 487.1 1714.4 453.8C1716.3 437.4 1718.1 401.2 1720.0 380.0C1724.3 330.7 1728.7 242.4 1733.0 242.4C1740.5 242.4 1747.9 398.0 1755.4 398.0C1762.0 398.0 1768.6 345.0 1775.2 345.0C1780.4 345.0 1785.5 355.0 1790.7 363.5C1794.8 370.3 1798.9 391.0 1803.0 391.0C1808.4 391.0 1813.9 345.2 1819.3 337.2C1821.7 333.7 1824.0 334.3 1826.4 333.7C1831.2 332.5 1835.9 332.0 1840.7 332.0C1846.8 332.0 1852.9 389.7 1859.0 389.7C1865.6 389.7 1872.3 312.2 1878.9 312.2C1883.4 312.2 1887.9 340.0 1892.4 363.5C1895.6 380.2 1898.8 414.4 1902.0 432.6C1905.6 452.9 1909.1 478.9 1912.7 478.9C1916.3 478.9 1919.8 443.3 1923.4 430.0C1926.2 419.5 1929.0 407.6 1931.8 407.6C1935.4 407.6 1938.9 432.9 1942.5 449.0C1944.1 456.2 1945.7 472.2 1947.3 477.7C1949.7 485.8 1952.0 489.6 1954.4 489.6C1957.6 489.6 1960.8 482.4 1964.0 482.4C1968.8 482.4 1973.5 515.8 1978.3 515.8C1984.2 515.8 1990.1 440.0 1996.0 440.0C1999.6 440.0 2003.3 493.4 2006.9 513.4C2012.1 541.8 2017.2 585.0 2022.4 585.0C2025.2 585.0 2027.9 542.5 2030.7 525.4C2035.5 495.9 2040.2 469.4 2045.0 445.0C2046.6 436.8 2048.2 432.3 2049.8 427.8C2052.2 421.0 2054.6 426.9 2057.0 411.0C2058.6 400.6 2060.1 366.7 2061.7 349.0C2064.1 322.3 2066.4 292.7 2068.8 277.7C2071.2 262.5 2073.6 258.6 2076.0 258.6C2076.7 258.6 2077.3 258.9 2078.0 259.0" stroke="#000" stroke-width="1.9"/>
<rect x="175.0" y="71.0" width="1903.0" height="735.0" fill="none" stroke="#000" stroke-width="2" shape-rendering="crispEdges"/>
<rect x="194" y="102" width="290" height="113" fill="none" stroke="#000" stroke-width="2" shape-rendering="crispEdges"/>
<path d="M224 127.5H341" stroke="#0064ff" stroke-width="3" fill="none" shape-rendering="crispEdges"/>
<path d="M224 158.5H341" stroke="#ff0000" stroke-width="3" fill="none" shape-rendering="crispEdges"/>
<path d="M224 188.5H341" stroke="#000" stroke-width="3" fill="none" shape-rendering="crispEdges"/>
<text class="lg" x="359.6" y="134.3">DJF</text>
<text class="lg" x="359.6" y="165.0">JJA</text>
<text class="lg" x="359.6" y="195.8">Annual</text>
<text class="tt" x="1125.8" y="46" text-anchor="middle">cloud from echo-g averaged over NH land</text>
<text class="tk" x="162.3" y="130.3" text-anchor="end">0.6</text>
<text class="tk" x="162.3" y="231.9" text-anchor="end">0.4</text>
<text class="tk" x="162.3" y="333.6" text-anchor="end">0.2</text>
<text class="tk" x="162.3" y="435.2" text-anchor="end">0.0</text>
<text class="tk" x="162.3" y="536.8" text-anchor="end">-0.2</text>
<text class="tk" x="162.3" y="638.5" text-anchor="end">-0.4</text>
<text class="tk" x="162.3" y="740.1" text-anchor="end">-0.6</text>
<text class="tk" x="174.9" y="868.8" text-anchor="middle">1000</text>
<text class="tk" x="559.5" y="868.8" text-anchor="middle">1200</text>
<text class="tk" x="944.1" y="868.8" text-anchor="middle">1400</text>
<text class="tk" x="1328.7" y="868.8" text-anchor="middle">1600</text>
<text class="tk" x="1713.3" y="868.8" text-anchor="middle">1800</text>
<text class="tk" x="1126.5" y="922.8" text-anchor="middle">Year</text>
<text class="tk" transform="translate(37 439) rotate(-90)" text-anchor="middle">%</text>
</svg></body></html>
